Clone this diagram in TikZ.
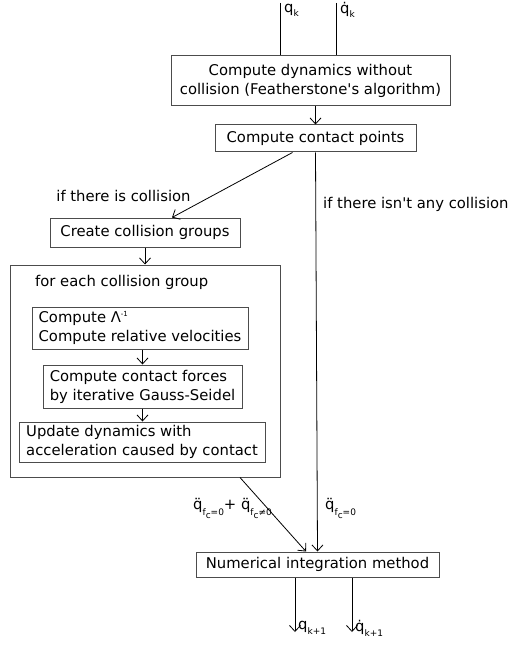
\documentclass[tikz,border=0pt]{standalone}
\usepackage{amsmath}
\usepackage{fontspec}
\setmainfont{DejaVu Sans}
\usepackage{tikz}
\usetikzlibrary{positioning,arrows.meta}

\newcommand{\lowsub}[2][-4pt]{\raisebox{#1}{\fontsize{9}{9}\selectfont #2}}
\tikzset{
  stepbox/.style={draw=black!70,line width=1pt,inner sep=2pt,font=\fontsize{14.8}{19}\selectfont},
  lbl/.style={font=\fontsize{14.8}{19}\selectfont,inner sep=0pt},
  flow/.style={->,>={Straight Barb[length=6pt,width=11pt]},line width=0.8pt}
}

\begin{document}
\begin{tikzpicture}[x=1pt,y=-1pt]
\useasboundingbox (0,0) rectangle (513,647);
%\draw[help lines,step=50] (0,0) grid (513,647);
% boxes
\node[stepbox,minimum width=279,minimum height=50,align=center] (dyn) at (310.5,81)
  {Compute dynamics without\\collision (Featherstone\textquotesingle s algorithm)};
\node[stepbox,minimum width=201,minimum height=27] (contact) at (315.5,138.5) {Compute contact points};
\node[stepbox,minimum width=190,minimum height=29] (groups) at (145,232.5) {Create collision groups};
\node[stepbox,minimum width=270,minimum height=212] (loop) at (145,371) {};
\node[lbl,anchor=west] (loopname) at (35,282) {for each collision group};
\node[stepbox,minimum width=216,minimum height=42,align=left] (lambda) at (140,328)
  {Compute Λ\raisebox{6pt}{\fontsize{7}{7}\selectfont -1}\\Compute relative velocities};
\node[stepbox,minimum width=199,minimum height=43,align=left] (forces) at (142.5,386.5)
  {Compute contact forces\\by iterative Gauss-Seidel};
\node[stepbox,minimum width=246,minimum height=40,align=left] (update) at (142,442)
  {Update dynamics with\\acceleration caused by contact};
\node[stepbox,minimum width=243,minimum height=25] (integ) at (317.5,564.5) {Numerical integration method};

% inputs
\coordinate (qin) at (280,3);
\coordinate (qdin) at (336,3);
\draw[line width=0.8pt] (qin) -- (qin |- dyn.north);
\draw[line width=0.8pt] (qdin) -- (qdin |- dyn.north);
\node[lbl,anchor=west] (qlabel) at (284,10) {q\lowsub{k}};
\node[lbl,anchor=west] (qdlabel) at (340,10) {q̇\lowsub{k}};

% main flow
\draw[flow] (dyn.south -| contact.north) -- (contact.north);
\draw[flow] ([xshift=-23]contact.south) -- ([xshift=27]groups.north);
\node[lbl] (yescoll) at (123.5,196) {if there is collision};
\draw[flow] (contact.south) -- (integ.north);
\node[lbl,anchor=west] (nocoll) at (323,204) {if there isn\textquotesingle t any collision};
\draw[flow] (groups.south) -- (loop.north);
\draw[flow] (lambda.south -| forces.north) -- (forces.north);
\draw[flow] (forces.south) -- (forces.south |- update.north);
\draw[flow] ([xshift=95]loop.south) -- ([xshift=-11.5]integ.north);
\node[lbl,anchor=west] (accboth) at (193,508)
  {q̈\lowsub[-6pt]{f\lowsub[-3pt]{c}=0}+ q̈\lowsub[-6pt]{f\lowsub[-3pt]{c}≠0}};
\node[lbl,anchor=west] (accfree) at (325,508) {q̈\lowsub[-6pt]{f\lowsub[-3pt]{c}=0}};

% outputs
\coordinate (qout) at (295,632);
\coordinate (qdout) at (352,632);
\draw[flow] (qout |- integ.south) -- (qout);
\draw[flow] (qdout |- integ.south) -- (qdout);
\node[lbl,anchor=west] (qnext) at (298,628) {q\lowsub[-5pt]{k+1}};
\node[lbl,anchor=west] (qdnext) at (355,628) {q̇\lowsub[-5pt]{k+1}};
\end{tikzpicture}
\end{document}
